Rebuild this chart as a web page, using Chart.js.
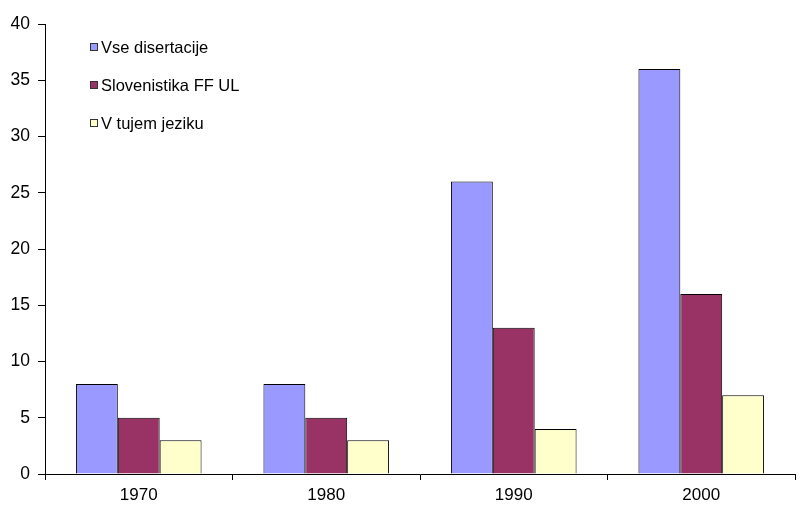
<!DOCTYPE html>
<html>
<head>
<meta charset="utf-8">
<script src="https://cdn.jsdelivr.net/npm/chart.js@4/dist/chart.umd.min.js"></script>
<style>
  html, body { margin: 0; padding: 0; background: #fff; }
  #wrap { width: 800px; height: 525px; }
</style>
</head>
<body>
<div id="wrap"><canvas id="chart" width="800" height="525"></canvas></div>
<script>
// Data
const years = ['1970', '1980', '1990', '2000'];
const vseDisertacije = [8, 8, 26, 36];
const slovenistika = [5, 5, 13, 16];
const tujJezik = [3, 3, 4, 7];
const seriesNames = ['Vse disertacije', 'Slovenistika FF UL', 'V tujem jeziku'];
const yTicks = [0, 5, 10, 15, 20, 25, 30, 35, 40];

const FONT = '"Liberation Sans", Arial, sans-serif';

// legend drawn inside the plot area, top-left
const innerLegend = {
  id: 'innerLegend',
  afterDraw(chart) {
    const ctx = chart.ctx;
    const a = chart.chartArea;
    ctx.save();
    ctx.font = '16.5px ' + FONT;
    ctx.textBaseline = 'middle';
    chart.data.datasets.forEach((ds, i) => {
      const y = a.top + 23 + i * 38;
      const x = a.left + 45;
      ctx.fillStyle = ds.backgroundColor;
      ctx.fillRect(x, y - 4, 8, 8);
      ctx.strokeStyle = '#333';
      ctx.lineWidth = 1;
      ctx.strokeRect(x + 0.5, y - 3.5, 7, 7);
      ctx.fillStyle = '#000';
      ctx.fillText(ds.label, x + 11, y + 1);
    });
    ctx.restore();
  }
};

const ds = (label, data, color) => ({
  label, data,
  backgroundColor: color,
  borderColor: '#000',
  borderWidth: 1,
  borderSkipped: 'bottom',
  categoryPercentage: 0.67,
  barPercentage: 1.0
});

new Chart(document.getElementById('chart'), {
  type: 'bar',
  data: {
    labels: years,
    datasets: [
      ds(seriesNames[0], vseDisertacije, '#9999FF'),
      ds(seriesNames[1], slovenistika, '#993366'),
      ds(seriesNames[2], tujJezik, '#FFFFCC')
    ]
  },
  options: {
    responsive: false,
    animation: false,
    layout: { padding: { top: 24, right: 5, left: 0, bottom: 0 } },
    plugins: { legend: { display: false }, tooltip: { enabled: false } },
    scales: {
      x: {
        grid: { offset: true, drawOnChartArea: false, tickLength: 6, color: '#000' },
        border: { color: '#000', width: 1 },
        ticks: { color: '#000', font: { family: FONT, size: 17 }, padding: 5 },
        afterFit: s => { s.height = 51; }
      },
      y: {
        min: 0, max: 40,
        afterBuildTicks: s => { s.ticks = yTicks.map(v => ({ value: v })); },
        grid: { drawOnChartArea: false, tickLength: 7, color: '#000' },
        border: { color: '#000', width: 1 },
        ticks: { color: '#000', font: { family: FONT, size: 17.5 }, padding: 8 },
        afterFit: s => { s.width = 45; }
      }
    }
  },
  plugins: [innerLegend]
});
</script>
</body>
</html>
